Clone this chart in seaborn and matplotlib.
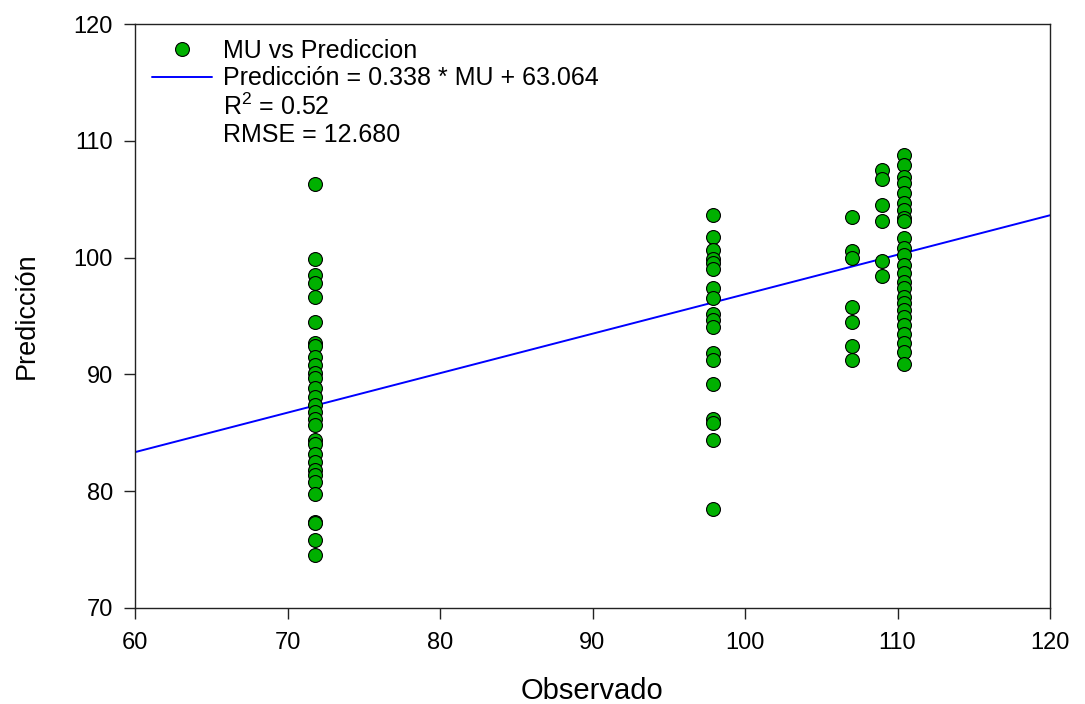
import numpy as np
import pandas as pd
import matplotlib
matplotlib.use("Agg")
import matplotlib.pyplot as plt
from matplotlib.lines import Line2D
import seaborn as sns

# ---- data ----
obs_levels = [71.8, 97.9, 107.0, 109.0, 110.4]
pred_71 = [106.3, 99.85, 98.5, 97.8, 96.65, 94.5, 92.7, 92.4, 91.5, 90.8, 90.1, 89.7,
           88.8, 88.1, 87.4, 86.8, 86.2, 85.7, 84.4, 84.0, 83.2, 82.5, 81.8, 81.4,
           80.8, 79.8, 77.4, 77.3, 75.8, 74.5]
pred_98 = [103.65, 101.8, 100.65, 99.9, 99.5, 99.0, 97.4, 96.5, 95.2, 94.65, 94.1,
           91.8, 91.2, 89.2, 86.15, 85.8, 84.4, 78.45]
pred_107 = [103.5, 100.55, 99.95, 95.8, 94.5, 92.4, 91.2]
pred_109 = [107.5, 106.7, 104.5, 103.1, 99.7, 98.4]
pred_110 = [108.8, 107.9, 106.9, 106.35, 105.5, 104.65, 104.1, 103.4, 103.1, 101.65,
            100.8, 100.2, 99.4, 98.65, 97.95, 97.4, 96.65, 96.1, 95.5, 94.95, 94.2,
            93.5, 92.7, 91.95, 90.9]
slope = 0.338
intercept = 63.064
r2 = 0.52
rmse = 12.680
x_ticks = [60, 70, 80, 90, 100, 110, 120]
y_ticks = [70, 80, 90, 100, 110, 120]

groups = [pred_71, pred_98, pred_107, pred_109, pred_110]
df = pd.DataFrame({
    "Observado": np.concatenate([[lv] * len(g) for lv, g in zip(obs_levels, groups)]),
    "Predicción": np.concatenate(groups),
})

sns.set_theme(style="ticks")
plt.rcParams["font.family"] = ["Liberation Sans", "DejaVu Sans"]
plt.rcParams["mathtext.fontset"] = "custom"
plt.rcParams["mathtext.rm"] = "Liberation Sans"
plt.rcParams["mathtext.it"] = "Liberation Sans"

fig = plt.figure(figsize=(10.85, 7.04), dpi=100)
ax = fig.add_axes([135 / 1085, 1 - 608 / 704, (1050 - 135) / 1085, (608 - 24) / 704])

line_x = np.array([x_ticks[0], x_ticks[-1]])
ax.plot(line_x, slope * line_x + intercept, color="#0000ff", lw=1.4, zorder=2)

sns.scatterplot(data=df, x="Observado", y="Predicción", ax=ax, color="#00b000",
                edgecolor="black", linewidth=0.8, s=100, zorder=3, legend=False)

ax.set_xlim(x_ticks[0], x_ticks[-1])
ax.set_ylim(y_ticks[0], y_ticks[-1])
ax.set_xticks(x_ticks)
ax.set_yticks(y_ticks)
ax.tick_params(axis="both", direction="out", length=8, width=1, labelsize=17,
               color="#222222", labelcolor="black")
ax.tick_params(axis="x", pad=9)
ax.tick_params(axis="y", pad=8)
for sp in ax.spines.values():
    sp.set_visible(True)
    sp.set_color("#222222")
    sp.set_linewidth(1.0)
ax.set_xlabel("Observado", fontsize=21, labelpad=17, color="black")
ax.set_ylabel("Predicción", fontsize=19.5, labelpad=24, color="black")

handles = [
    Line2D([], [], ls="none", marker="o", markersize=10, markerfacecolor="#00b000",
           markeredgecolor="black", markeredgewidth=0.8),
    Line2D([], [], color="#0000ff", lw=1.4),
    Line2D([], [], ls="none"),
    Line2D([], [], ls="none"),
]
labels = [
    "MU vs Prediccion",
    f"Predicción = {slope:.3f} * MU + {intercept:.3f}",
    f"R$^2$ = {r2:.2f}",
    f"RMSE = {rmse:.3f}",
]
ax.legend(handles, labels, loc="upper left", bbox_to_anchor=(152 / 1085, 1 - 39 / 704),
          bbox_transform=fig.transFigure, frameon=False, fontsize=18, borderpad=0,
          borderaxespad=0, handlelength=2.4, handletextpad=0.45, labelspacing=0.13,
          labelcolor="black")

fig.savefig("out.png", dpi=100)
